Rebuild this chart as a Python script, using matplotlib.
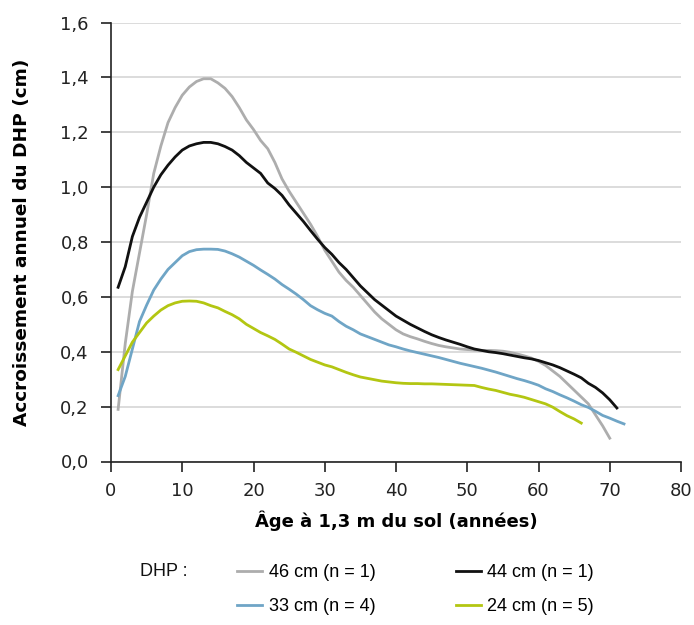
import matplotlib
matplotlib.use("Agg")
import matplotlib.pyplot as plt
import numpy as np

plt.rcParams['font.family'] = ['DejaVu Sans']

age_46 = list(range(1, 71))
val_46 = [0.19, 0.43, 0.62, 0.76, 0.90, 1.05, 1.15, 1.235, 1.29, 1.335,
          1.365, 1.385, 1.395, 1.395, 1.38, 1.36, 1.33, 1.29, 1.245, 1.21,
          1.17, 1.14, 1.09, 1.03, 0.985, 0.945, 0.905, 0.865, 0.82, 0.77,
          0.73, 0.69, 0.66, 0.635, 0.605, 0.575, 0.545, 0.52, 0.50, 0.48,
          0.465, 0.455, 0.447, 0.438, 0.43, 0.423, 0.418, 0.414, 0.41, 0.408,
          0.406, 0.405, 0.405, 0.404, 0.402, 0.398, 0.392, 0.385, 0.377, 0.365,
          0.35, 0.33, 0.31, 0.285, 0.26, 0.235, 0.21, 0.17, 0.13, 0.085]

age_44 = list(range(1, 72))
val_44 = [0.635, 0.71, 0.82, 0.89, 0.945, 1.00, 1.045, 1.08, 1.11, 1.135,
          1.15, 1.158, 1.163, 1.163, 1.158, 1.148, 1.135, 1.115, 1.09, 1.07,
          1.05, 1.015, 0.995, 0.97, 0.935, 0.905, 0.875, 0.842, 0.81, 0.78,
          0.755, 0.725, 0.70, 0.67, 0.64, 0.615, 0.59, 0.57, 0.55, 0.53,
          0.515, 0.50, 0.487, 0.474, 0.462, 0.452, 0.443, 0.435, 0.427, 0.418,
          0.41, 0.405, 0.40, 0.397, 0.393, 0.388, 0.383, 0.378, 0.374, 0.368,
          0.36, 0.352, 0.342, 0.33, 0.318, 0.305, 0.285, 0.27, 0.25, 0.225,
          0.195]

age_33 = list(range(1, 73))
val_33 = [0.24, 0.31, 0.41, 0.51, 0.57, 0.625, 0.665, 0.70, 0.725, 0.75,
          0.765, 0.772, 0.774, 0.774, 0.773, 0.767, 0.757, 0.745, 0.73, 0.715,
          0.698, 0.682, 0.665, 0.645, 0.628, 0.61, 0.59, 0.568, 0.553, 0.54,
          0.53, 0.51, 0.493, 0.48, 0.465, 0.455, 0.445, 0.435, 0.425, 0.418,
          0.41, 0.403, 0.397, 0.391, 0.385, 0.379, 0.372, 0.365, 0.358, 0.352,
          0.346, 0.34, 0.333, 0.326, 0.318, 0.31, 0.302, 0.295, 0.287, 0.278,
          0.265, 0.255, 0.243, 0.232, 0.22, 0.207, 0.197, 0.183, 0.168, 0.158,
          0.147, 0.137]

age_24 = list(range(1, 67))
val_24 = [0.335, 0.385, 0.435, 0.47, 0.505, 0.53, 0.552, 0.568, 0.578, 0.584,
          0.585, 0.584, 0.578, 0.568, 0.56, 0.547, 0.535, 0.52, 0.50, 0.485,
          0.47, 0.458, 0.445, 0.428, 0.41, 0.398, 0.385, 0.372, 0.362, 0.352,
          0.345, 0.335, 0.325, 0.316, 0.308, 0.303, 0.298, 0.293, 0.29, 0.287,
          0.285, 0.284, 0.284, 0.283, 0.283, 0.282, 0.281, 0.28, 0.279, 0.278,
          0.277, 0.27, 0.264, 0.259, 0.252, 0.245, 0.24, 0.234, 0.226, 0.218,
          0.21, 0.198, 0.182, 0.167, 0.155, 0.14]

labels = ["46 cm (n = 1)", "44 cm (n = 1)", "33 cm (n = 4)", "24 cm (n = 5)"]
colors = ["#ADADAD", "#111111", "#6FA5C6", "#B3C612"]

x_ticks = [0, 10, 20, 30, 40, 50, 60, 70, 80]
y_ticks = [0.0, 0.2, 0.4, 0.6, 0.8, 1.0, 1.2, 1.4, 1.6]

fig = plt.figure(figsize=(6.94, 6.25), dpi=100)
ax = fig.add_axes([111/694, 1-461.5/625, (681-111)/694, (461.5-22.5)/625])

series = [(age_46, val_46), (age_44, val_44), (age_33, val_33), (age_24, val_24)]
handles = []
for (a, v), lab, c in zip(series, labels, colors):
    h, = ax.plot(a, v, color=c, lw=2.0, label=lab, solid_joinstyle='round')
    handles.append(h)

ax.set_xlim(0, 80)
ax.set_ylim(0, 1.6)
ax.set_xticks(x_ticks)
ax.set_yticks(y_ticks)
ax.set_yticklabels([f"{t:.1f}".replace('.', ',') for t in y_ticks])
ax.set_xticklabels([str(t) for t in x_ticks])
ax.tick_params(axis='both', labelsize=13, direction='out', length=7, width=1.2,
               colors='#222222')
ax.tick_params(axis='y', pad=9)
ax.tick_params(axis='x', pad=8)
ax.yaxis.grid(True, color='#D9D9D9', lw=1.3)
ax.set_axisbelow(True)
for s in ['top', 'right']:
    ax.spines[s].set_visible(False)
for s in ['left', 'bottom']:
    ax.spines[s].set_linewidth(1.2)
    ax.spines[s].set_color('#222222')

ax.set_xlabel("Âge à 1,3 m du sol (années)", fontsize=13, fontweight='bold', labelpad=7)
ax.set_ylabel("Accroissement annuel du DHP (cm)", fontsize=13.3, fontweight='bold', labelpad=21)

leg_font = ['Liberation Sans', 'DejaVu Sans']
fig.text(140/694, 1-572/625, "DHP :", fontsize=13, va='center', ha='left',
         color='#111111', family=leg_font)
order = [0, 2, 1, 3]
leg = fig.legend(handles=[handles[i] for i in order], labels=[labels[i] for i in order],
                 loc='upper left', bbox_to_anchor=(237/694, 1-564/625),
                 ncol=2, frameon=False, prop={'family': leg_font, 'size': 13},
                 handlelength=1.4, handletextpad=0.35,
                 columnspacing=4.45, labelspacing=0.95, borderpad=0, borderaxespad=0)

fig.savefig("out.png", dpi=100)
